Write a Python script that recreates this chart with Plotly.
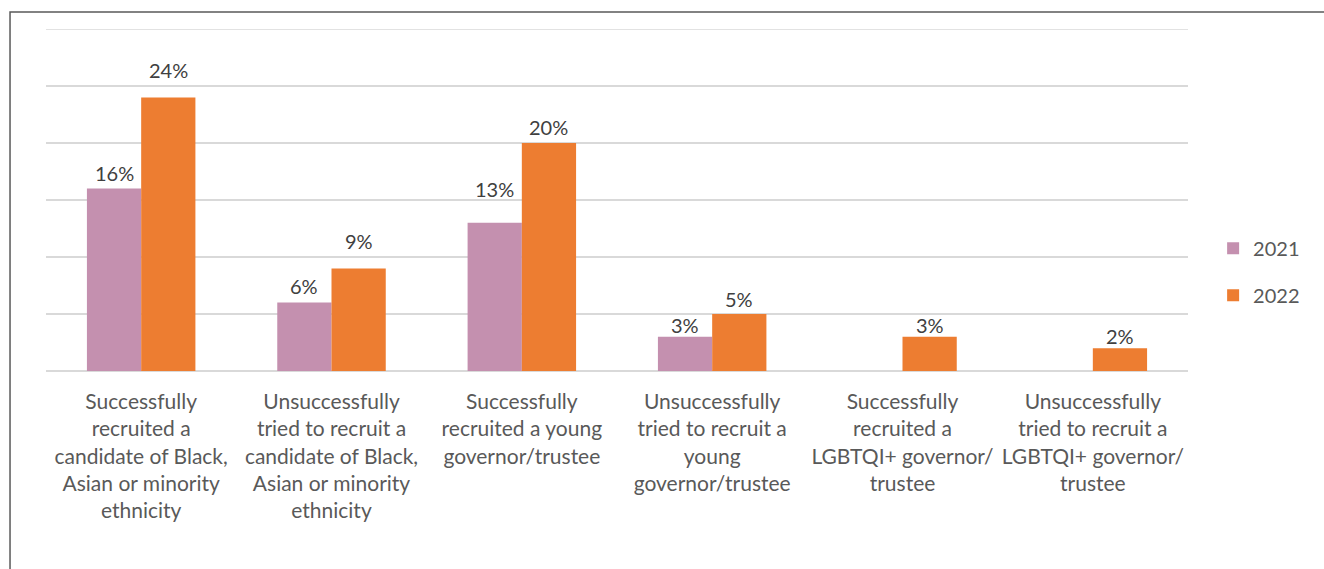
import plotly.graph_objects as go

categories = [
    "Successfully<br>recruited a<br>candidate of Black,<br>Asian or minority<br>ethnicity",
    "Unsuccessfully<br>tried to recruit a<br>candidate of Black,<br>Asian or minority<br>ethnicity",
    "Successfully<br>recruited a young<br>governor/trustee",
    "Unsuccessfully<br>tried to recruit a<br>young<br>governor/trustee",
    "Successfully<br>recruited a<br>LGBTQI+ governor/<br>trustee",
    "Unsuccessfully<br>tried to recruit a<br>LGBTQI+ governor/<br>trustee",
]
values_2021 = [16, 6, 13, 3, None, None]
values_2022 = [24, 9, 20, 5, 3, 2]
series_names = ["2021", "2022"]
colors = ["#C490AF", "#ED7D31"]

# vertical lift (px) of each value label's centre above its bar top
label_lift_2021 = [15.5, 17, 34, 11.5, 0, 0]
label_lift_2022 = [27, 27, 16, 15, 12, 12]

FONT = "Lato, 'Noto Sans', sans-serif"
LABEL_GREY = "#595959"

BARGAP = 0.43
PLOT_W = 1324 - 46 - 136
n_cat = len(categories)
bar_px = PLOT_W / n_cat * (1 - BARGAP) / 2

fig = go.Figure()
for i, (name, vals, col, lifts) in enumerate(zip(
        series_names, [values_2021, values_2022], colors,
        [label_lift_2021, label_lift_2022])):
    xs = list(range(n_cat))
    fig.add_trace(go.Bar(
        name=name,
        x=xs,
        y=vals,
        marker=dict(color=col, line=dict(width=0)),
        legendgroup=name,
    ))
    # value labels above each bar
    shift = (i - 0.5) * bar_px
    for xv, v, lift in zip(xs, vals, lifts):
        if v is None:
            continue
        fig.add_annotation(
            x=xv, y=v, xref="x", yref="y",
            text=f"{v}%", showarrow=False,
            xanchor="center", yanchor="middle",
            xshift=shift, yshift=lift,
            font=dict(family=FONT, size=20, color="#404040"),
        )

fig.update_layout(
    width=1324, height=569,
    margin=dict(l=46, r=136, t=29, b=198),
    paper_bgcolor="white", plot_bgcolor="white",
    barmode="group", bargap=BARGAP, bargroupgap=0,
    font=dict(family=FONT, color=LABEL_GREY),
    legend=dict(
        x=1.022, xanchor="left", y=0.29, yanchor="middle",
        font=dict(family=FONT, size=20, color=LABEL_GREY),
        tracegroupgap=18, itemwidth=30,
    ),
    xaxis=dict(
        tickmode="array",
        tickvals=list(range(n_cat)),
        ticktext=categories,
        tickfont=dict(family=FONT, size=21, color=LABEL_GREY),
        range=[-0.5, n_cat - 0.5],
        showgrid=False, showline=False, ticks="",
        ticklabelstandoff=16,
    ),
    yaxis=dict(
        range=[0, 30], tickvals=[5, 10, 15, 20, 25],
        showticklabels=False,
        showgrid=True, gridcolor="#D9D9D9", gridwidth=1.5,
        zeroline=True, zerolinecolor="#D9D9D9", zerolinewidth=1.5,
    ),
    showlegend=True,
)

# top gridline at 30%
fig.add_shape(
    type="line", xref="paper", yref="y", x0=0, x1=1, y0=30, y1=30,
    line=dict(color="#D9D9D9", width=1.5), layer="below",
)

# outer frame (top and left edges)
fig.add_shape(
    type="path", xref="paper", yref="paper",
    path="M -0.0315,-0.6 L -0.0315,1.0497 L 1.2,1.0497",
    line=dict(color="#595959", width=1.5),
)

fig.write_html("out.html")
